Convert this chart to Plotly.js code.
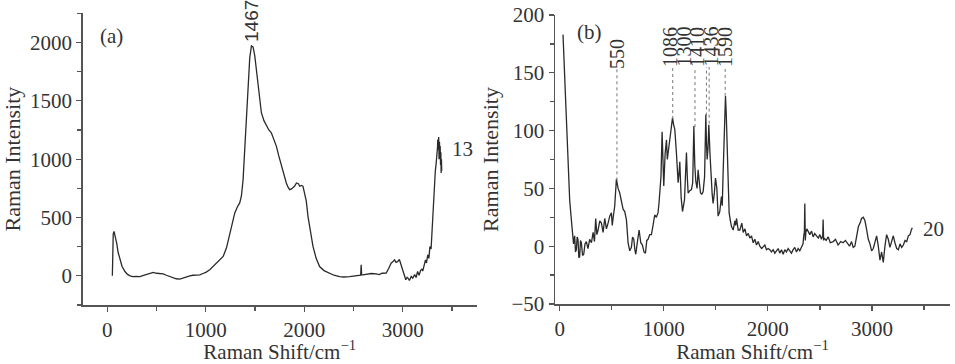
<!DOCTYPE html>
<html>
<head>
<meta charset="utf-8">
<script src="https://cdn.plot.ly/plotly-3.0.1.min.js"></script>
<style>html,body{margin:0;padding:0;background:#fff;}#chart{width:955px;height:364px;}</style>
</head>
<body>
<div id="chart"></div>
<script>
// Panel (a) spectrum: Raman shift (cm-1) and intensity
const shiftA = [
  51,55,60,68,80,95,110,128,150,179,
  205,230,260,290,331,360,400,432,466,500,
  530,567,600,640,669,700,736,770,800,838,
  870,900,939,970,1000,1040,1075,1108,1140,1176,
  1210,1243,1270,1294,1320,1344,1361,1378,1395,1412,
  1429,1446,1463,1480,1497,1513,1530,1547,1564,1590,
  1615,1640,1665,1690,1716,1740,1767,1790,1817,1835,
  1851,1870,1885,1902,1920,1940,1953,1970,1986,2005,
  2020,2037,2060,2088,2120,2155,2200,2257,2300,2358,
  2400,2459,2510,2560,2572,2577,2582,2594,2630,2680,
  2729,2760,2790,2831,2855,2881,2898,2915,2932,2949,
  2965,2983,3000,3017,3030,3045,3067,3085,3100,3120,
  3135,3150,3165,3180,3195,3202,3215,3230,3240,3253,
  3265,3275,3287,3296,3304,3312,3320,3330,3338,3346,
  3352,3355,3360,3364,3368,3372,3376,3379,3383,3386,
  3389,3392,3395];
const intensityA = [
  0,250,360,381,340,281,200,137,80,37,
  12,0,-6,-4,-6,2,12,17,29,22,
  18,17,5,-8,-20,-25,-29,-18,-8,0,
  5,8,9,20,30,52,80,109,130,166,
  240,367,470,539,590,625,682,820,1083,1380,
  1656,1870,1971,1960,1885,1760,1627,1500,1398,1330,
  1284,1250,1226,1170,1112,1030,940,870,796,760,
  739,745,754,770,796,790,768,775,768,700,
  640,510,380,252,150,80,45,23,5,-6,
  -10,-6,0,9,5,95,8,9,12,20,
  17,10,22,23,60,109,120,137,115,123,
  140,90,52,10,-34,-10,-40,-6,-20,10,
  -15,37,5,45,60,40,90,137,110,180,
  150,252,230,380,510,650,796,900,960,1026,
  1100,1169,1080,1190,1000,1150,1040,1112,950,1060,
  882,1000,900];

// Panel (b) spectrum
const shiftB = [
  32,40,48,60,70,83,96,110,122,133,
  144,152,160,168,176,184,192,200,208,220,
  231,243,256,272,288,305,321,334,346,357,
  369,385,401,417,433,449,465,481,497,505,
  513,529,545,561,577,593,609,625,641,650,
  657,673,689,700,712,722,731,747,763,779,
  795,810,824,837,849,865,881,897,913,929,
  945,955,962,973,984,992,1000,1013,1026,1034,
  1042,1063,1084,1095,1106,1122,1138,1146,1154,1167,
  1180,1199,1218,1226,1234,1250,1266,1278,1289,1298,
  1308,1320,1330,1342,1353,1366,1378,1392,1404,1410,
  1417,1425,1433,1444,1455,1465,1474,1485,1497,1510,
  1522,1538,1554,1562,1570,1582,1593,1600,1609,1618,
  1628,1640,1651,1667,1683,1691,1699,1715,1731,1750,
  1763,1780,1795,1812,1827,1843,1859,1875,1891,1907,
  1923,1940,1955,1971,1987,2003,2019,2035,2051,2067,
  2083,2099,2115,2131,2147,2163,2179,2195,2211,2227,
  2243,2259,2275,2291,2307,2323,2338,2346,2351,2355,
  2360,2365,2375,2390,2403,2420,2435,2450,2467,2485,
  2500,2515,2527,2531,2536,2541,2560,2580,2600,2628,
  2650,2675,2700,2724,2745,2765,2785,2804,2820,2836,
  2852,2870,2886,2900,2917,2933,2950,2965,2981,2997,
  3013,3029,3045,3061,3077,3093,3109,3125,3141,3157,
  3173,3189,3205,3221,3238,3254,3270,3286,3302,3318,
  3334,3350,3366,3378,3388];
const intensityB = [
  183,160,148,120,98,65,40,25,14,2,
  9,-5,-3,8,6,-10,-9,5,3,-8,
  -7,2,4,-2,6,3,12,4,24,10,
  14,22,20,12,24,15,20,26,29,18,
  24,35,58,50,46,38,32,30,23,12,
  3,-4,-1,8,6,-3,-7,4,14,3,
  1,-5,-6,5,6,10,10,18,27,25,
  29,38,47,60,99,70,52,80,92,75,
  81,95,111,105,101,80,55,62,73,42,
  30,40,81,60,46,48,49,55,104,70,
  56,50,66,55,46,45,47,60,114,90,
  75,85,105,80,58,45,37,45,59,50,
  26,30,43,35,63,90,130,115,89,50,
  29,22,17,14,22,18,24,14,14,20,
  12,15,9,11,7,9,3,6,1,4,
  0,-2,0,1,-3,-2,-3,-5,-3,-6,
  -4,-2,-6,-3,-7,-3,-5,-2,-4,-6,
  -3,-1,-5,-2,-4,0,2,10,12,37,
  5,12,15,12,10,13,8,11,9,7,
  10,6,9,23,5,7,5,8,3,4,
  6,1,4,3,5,2,0,4,-1,0,
  10,17,20,24,25,22,14,6,2,-4,
  -2,4,9,0,-12,-5,-14,0,10,6,
  -1,4,9,3,-2,-3,2,-1,1,5,
  4,9,10,14,16];

// Peak labels of panel (b)
const peaksB = [550, 1086, 1300, 1410, 1436, 1590];
const peakTopsB = [57, 110, 103, 113, 106, 130];
const peakLabelsB = ["550", "1086", "1300", "1410", "1436", "1590"];

const W = 955, H = 364;
const px = v => v / W, py = v => 1 - v / H;

const lineStyle = {color: '#2a2a2a', width: 1.3};
const traces = [
  {x: shiftA, y: intensityA, type: 'scatter', mode: 'lines', line: lineStyle, xaxis: 'x', yaxis: 'y', hoverinfo: 'x+y'},
  {x: shiftB, y: intensityB, type: 'scatter', mode: 'lines', line: lineStyle, xaxis: 'x2', yaxis: 'y2', hoverinfo: 'x+y'}
];

const fontFam = '"Liberation Serif", "Times New Roman", serif';
const tickFont = {family: fontFam, size: 21, color: '#333'};
const titleFont = {family: fontFam, size: 21, color: '#333'};
const yTitleFont = {family: fontFam, size: 22, color: '#333'};

function axisBase(extra) {
  return Object.assign({
    showline: true, linecolor: '#555', linewidth: 1.5,
    ticks: 'outside', ticklen: 5, tickwidth: 1.3, tickcolor: '#555',
    showgrid: false, zeroline: false, mirror: false,
    tickfont: tickFont, automargin: false
  }, extra);
}

const shapes = peaksB.map((p, i) => ({
  type: 'line', xref: 'x2', yref: 'y2', x0: p, x1: p, y0: peakTopsB[i], y1: 155,
  line: {color: '#777', width: 1, dash: 'dot'}
}));

const labelX = [617, 670, 683.5, 697, 710.5, 725];
const labelY = [54, 47, 47, 47, 47, 47];
function ann(text, x, y, size, angle, family) {
  return {text: text, xref: 'paper', yref: 'paper', x: px(x), y: py(y), showarrow: false,
    textangle: angle || 0, xanchor: 'center', yanchor: 'middle',
    font: {family: family || fontFam, size: size, color: '#333'}};
}
const annotations = peakLabelsB.map((t, i) => ann(t, labelX[i], labelY[i], 20, -90));
annotations.push(
  ann('(a)', 111, 36, 21),
  ann('(b)', 589, 32, 21),
  ann('1467', 251, 21, 19, -90, '"Liberation Sans", Arial, sans-serif'),
  ann('13', 462, 149, 21),
  ann('20', 933, 229, 21)
);

const layout = {
  width: W, height: H,
  margin: {l: 0, r: 0, t: 0, b: 0},
  paper_bgcolor: '#fff', plot_bgcolor: '#fff',
  showlegend: false,
  xaxis: axisBase({domain: [px(82.7), px(476.7)], range: [-250, 3750], dtick: 1000, tick0: 0,
    minor: {dtick: 500, ticks: 'outside', ticklen: 4, tickcolor: '#555'},
    anchor: 'y', title: {text: 'Raman Shift/cm<sup>−1</sup>', font: titleFont, standoff: 8}}),
  yaxis: axisBase({domain: [1 - 305 / H, 1 - 13.3 / H], range: [-250, 2250], dtick: 500, tick0: 0,
    minor: {dtick: 250, ticks: 'outside', ticklen: 4, tickcolor: '#555'},
    anchor: 'x', title: {text: 'Raman Intensity', font: yTitleFont, standoff: 7}}),
  xaxis2: axisBase({domain: [px(555), px(950)], range: [-45, 3750], dtick: 1000, tick0: 0,
    minor: {dtick: 500, ticks: 'outside', ticklen: 4, tickcolor: '#555'},
    anchor: 'y2', title: {text: 'Raman Shift/cm<sup>−1</sup>', font: titleFont, standoff: 8}}),
  yaxis2: axisBase({domain: [1 - 304 / H, 1 - 15 / H], range: [-50, 200], dtick: 50, tick0: 0,
    minor: {dtick: 25, ticks: 'outside', ticklen: 4, tickcolor: '#555'},
    anchor: 'x2', title: {text: 'Raman Intensity', font: yTitleFont, standoff: 7}}),
  shapes: shapes,
  annotations: annotations
};

Plotly.newPlot('chart', traces, layout, {displayModeBar: false, staticPlot: true});
</script>
</body>
</html>
